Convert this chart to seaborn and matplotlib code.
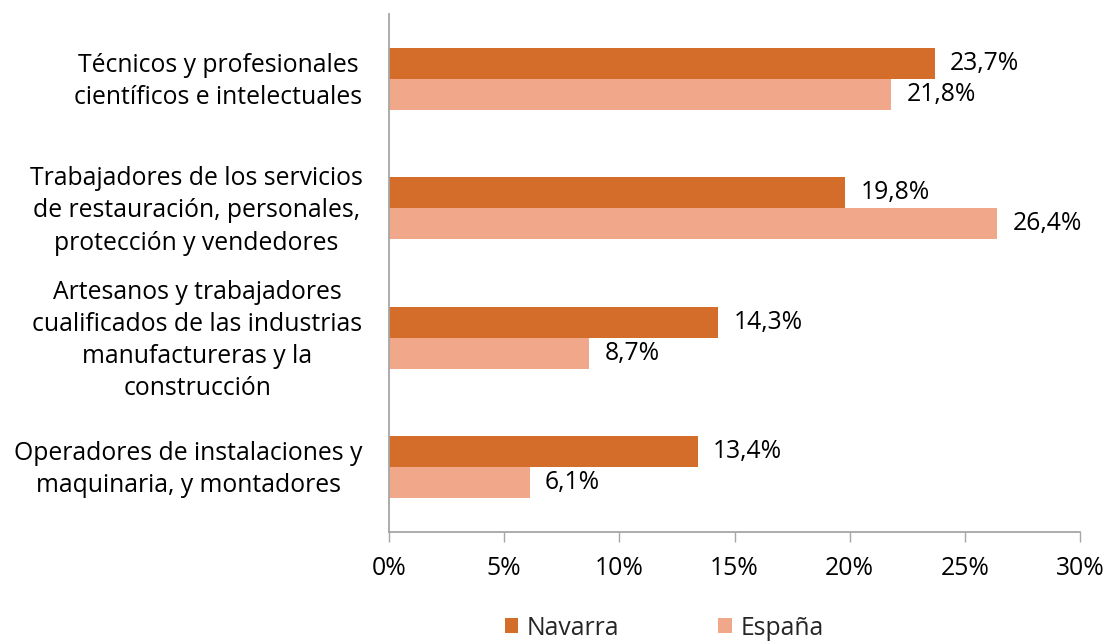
import matplotlib
matplotlib.use("Agg")
import matplotlib.pyplot as plt
import matplotlib.transforms as mtransforms
import seaborn as sns
import pandas as pd
from matplotlib.patches import Patch

categories = [
    "Técnicos y profesionales\ncientíficos e intelectuales",
    "Trabajadores de los servicios\nde restauración, personales,\nprotección y vendedores",
    "Artesanos y trabajadores\ncualificados de las industrias\nmanufactureras y la\nconstrucción",
    "Operadores de instalaciones y\nmaquinaria, y montadores",
]
series_names = ["Navarra", "España"]
navarra = [23.7, 19.8, 14.3, 13.4]
espana = [21.8, 26.4, 8.7, 6.1]
xticks = [0, 5, 10, 15, 20, 25, 30]

colors = ["#D46D2A", "#F1A78A"]

sns.set_theme(style="white")
plt.rcParams["font.family"] = ["Open Sans", "DejaVu Sans"]
FS = 17.8

df = pd.DataFrame({
    "cat": categories * 2,
    "serie": [series_names[0]] * 4 + [series_names[1]] * 4,
    "val": navarra + espana,
})

fig = plt.figure(figsize=(11.07, 6.41), dpi=100)
ax = fig.add_axes([389 / 1107, 1 - 532 / 641, (1080 - 389) / 1107, (532 - 14) / 641])

sns.barplot(data=df, y="cat", x="val", hue="serie", orient="h",
            palette=colors, width=0.48, gap=0, ax=ax, legend=False,
            saturation=1, linewidth=0, order=categories, hue_order=series_names)

for cont in ax.containers:
    labels = [f"{v:.1f}".replace(".", ",") + "%" for v in cont.datavalues]
    ax.bar_label(cont, labels=labels, padding=11, fontsize=FS, color="#000000")

ax.set_xlim(0, 30)
ax.set_xticks(xticks)
ax.set_xticklabels([f"{t}%" for t in xticks], fontsize=FS, color="#000000")
ax.set_xlabel("")
ax.set_ylabel("")
ax.tick_params(axis="x", length=7, width=1, color="#A6A6A6", pad=10, direction="out", bottom=True)
ax.tick_params(axis="y", length=0, pad=19)
shift = mtransforms.ScaledTranslation(0, 4 / 100, fig.dpi_scale_trans)
for lbl in ax.get_yticklabels():
    lbl.set_fontsize(FS)
    lbl.set_multialignment("center")
    lbl.set_color("#000000")
    lbl.set_linespacing(1.38)
    lbl.set_transform(lbl.get_transform() + shift)

for s in ["top", "right"]:
    ax.spines[s].set_visible(False)
for s in ["left", "bottom"]:
    ax.spines[s].set_color("#A6A6A6")
    ax.spines[s].set_linewidth(1.3)
ax.grid(False)

handles = [Patch(facecolor=c, edgecolor="none") for c in colors]
fig.legend(handles, series_names, loc="center", bbox_to_anchor=(0.6, 0.02),
           ncol=2, frameon=False, fontsize=FS, handlelength=0.55, handleheight=0.55,
           handletextpad=0.35, columnspacing=4.0)

fig.savefig("out.png", dpi=100)
